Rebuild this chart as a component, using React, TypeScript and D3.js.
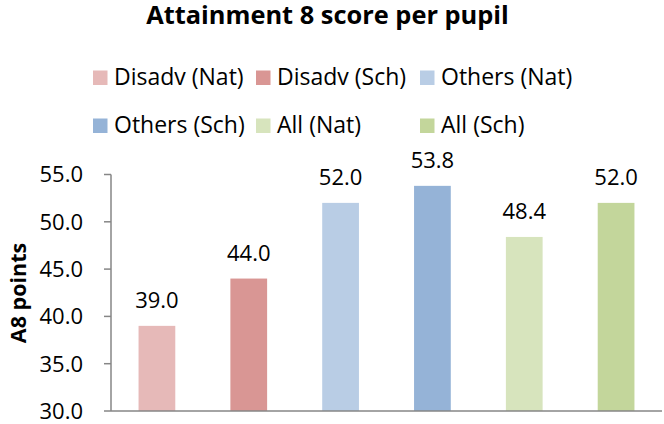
import React from 'react';
import * as d3 from 'd3';

const categories = ['Disadv (Nat)', 'Disadv (Sch)', 'Others (Nat)', 'Others (Sch)', 'All (Nat)', 'All (Sch)'];
const values = [39.0, 44.0, 52.0, 53.8, 48.4, 52.0];
const colors = ['#E6B9B8', '#D99694', '#B9CDE5', '#95B3D7', '#D7E4BD', '#C3D69B'];
const yTicks = [30, 35, 40, 45, 50, 55];

const width = 664;
const height = 424;
const font = '"Open Sans", sans-serif';
const axisColor = '#868686';

export default function App() {
    const x = d3.scaleBand<string>()
        .domain(categories)
        .range([111, 662])
        .paddingInner(0.6)
        .paddingOuter(0.3);

    const y = d3.scaleLinear()
        .domain([30, 55])
        .range([411, 174.5]);

    // legend: 3 columns, 2 rows
    const legendCols = [93, 256, 420];
    const legendRows = [85, 133];

    return (
        <svg width={width} height={height} style={{ position: 'absolute', left: 0, top: 0, background: '#fff' }}
            fontFamily={font}>
            <text x={327.5} y={23.5} textAnchor="middle" fontSize={25.4} fontWeight="bold" fill="#000">
                Attainment 8 score per pupil
            </text>

            {categories.map((c, i) => {
                const col = i % 3;
                const row = Math.floor(i / 3);
                const bx = legendCols[col];
                const by = legendRows[row];
                return (
                    <g key={'leg' + c}>
                        <rect x={bx} y={by - 14.5} width={14.5} height={14.5} fill={colors[i]} />
                        <text x={bx + 21} y={by} fontSize={23} fill="#000">{c}</text>
                    </g>
                );
            })}

            {/* y axis */}
            <line x1={111} x2={111} y1={y(55)} y2={y(30)} stroke={axisColor} strokeWidth={1.5} />
            {yTicks.map(t => (
                <g key={'t' + t}>
                    <line x1={104} x2={111} y1={y(t)} y2={y(t)} stroke={axisColor} strokeWidth={1.5} />
                    <text x={83} y={y(t)} dy="0.36em" textAnchor="end" fontSize={22} fill="#000">
                        {d3.format('.1f')(t)}
                    </text>
                </g>
            ))}
            <text transform={`translate(26,293) rotate(-90)`} textAnchor="middle" fontSize={21.5}
                fontWeight="bold" fill="#000">A8 points</text>

            {/* bars */}
            {categories.map((c, i) => (
                <g key={'bar' + c}>
                    <rect x={x(c)} y={y(values[i])} width={x.bandwidth()} height={y(30) - y(values[i])}
                        fill={colors[i]} />
                    <text x={(x(c) as number) + x.bandwidth() / 2} y={y(values[i]) - 18} textAnchor="middle"
                        fontSize={22} fill="#000">{d3.format('.1f')(values[i])}</text>
                </g>
            ))}

            {/* x axis */}
            <line x1={111} x2={662} y1={y(30)} y2={y(30)} stroke={axisColor} strokeWidth={1.5} />
        </svg>
    );
}
